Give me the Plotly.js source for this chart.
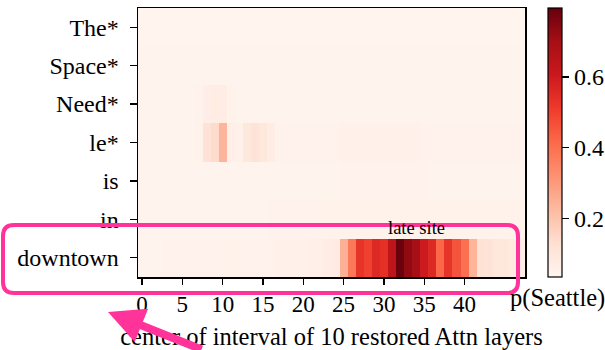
<!DOCTYPE html>
<html>
<head>
<meta charset="utf-8">
<script src="https://cdn.plot.ly/plotly-3.0.1.min.js"></script>
<style>html,body{margin:0;padding:0;background:#fff;}#chart{width:605px;height:350px;}</style>
</head>
<body>
<div id="chart"></div>
<script>
// ---- data ----
const tokens = ['The*', 'Space*', 'Need*', 'le*', 'is', 'in', 'downtown'];
const layers = Array.from({length: 48}, (_, i) => i);
const xTickVals = [0, 5, 10, 15, 20, 25, 30, 35, 40];

const rowThe = [0.040,0.040,0.041,0.041,0.040,0.040,0.040,0.041,0.041,0.041,0.040,0.040,0.040,0.040,0.040,0.040,
                0.040,0.040,0.040,0.040,0.040,0.040,0.040,0.040,0.040,0.040,0.040,0.040,0.040,0.040,0.040,0.040,
                0.040,0.040,0.040,0.040,0.040,0.040,0.040,0.040,0.040,0.040,0.040,0.040,0.040,0.040,0.040,0.040];
const rowSpace = [0.042,0.042,0.043,0.043,0.042,0.042,0.042,0.043,0.044,0.044,0.043,0.042,0.042,0.042,0.042,0.042,
                  0.042,0.042,0.042,0.042,0.042,0.042,0.042,0.042,0.042,0.042,0.042,0.042,0.042,0.042,0.042,0.042,
                  0.042,0.042,0.042,0.042,0.042,0.042,0.042,0.042,0.042,0.042,0.042,0.042,0.042,0.042,0.042,0.042];
const rowNeed = [0.043,0.043,0.043,0.043,0.043,0.044,0.045,0.048,0.065,0.075,0.070,0.050,0.046,0.046,0.046,0.045,
                 0.044,0.044,0.044,0.044,0.044,0.044,0.044,0.044,0.044,0.044,0.044,0.044,0.044,0.044,0.044,0.044,
                 0.044,0.044,0.044,0.044,0.044,0.044,0.044,0.044,0.044,0.044,0.044,0.044,0.044,0.044,0.044,0.044];
const rowLe = [0.045,0.045,0.045,0.045,0.045,0.045,0.046,0.050,0.120,0.140,0.240,0.060,0.055,0.100,0.110,0.100,
               0.070,0.052,0.048,0.048,0.048,0.048,0.048,0.048,0.048,0.058,0.058,0.058,0.058,0.058,0.058,0.058,
               0.058,0.058,0.058,0.048,0.047,0.047,0.047,0.047,0.047,0.047,0.047,0.047,0.047,0.047,0.047,0.047];
const rowIs = [0.044,0.044,0.044,0.044,0.044,0.044,0.044,0.044,0.045,0.045,0.045,0.045,0.045,0.045,0.045,0.045,
               0.045,0.045,0.045,0.045,0.045,0.045,0.045,0.045,0.045,0.048,0.048,0.048,0.048,0.048,0.048,0.048,
               0.048,0.048,0.048,0.047,0.046,0.046,0.046,0.046,0.046,0.046,0.046,0.046,0.046,0.046,0.046,0.046];
const rowIn = [0.045,0.045,0.045,0.045,0.045,0.045,0.045,0.045,0.046,0.046,0.046,0.046,0.046,0.046,0.046,0.046,
               0.047,0.047,0.047,0.047,0.049,0.049,0.049,0.050,0.050,0.050,0.050,0.050,0.050,0.050,0.050,0.050,
               0.050,0.050,0.050,0.050,0.050,0.050,0.050,0.050,0.050,0.050,0.050,0.050,0.050,0.050,0.050,0.050];
const rowDowntown = [0.046,0.046,0.046,0.047,0.047,0.048,0.048,0.048,0.049,0.049,0.050,0.050,0.050,0.051,0.051,0.052,
                     0.052,0.053,0.053,0.054,0.056,0.060,0.062,0.075,0.080,0.250,0.380,0.530,0.500,0.560,0.540,0.640,
                     0.790,0.730,0.700,0.600,0.560,0.420,0.530,0.460,0.400,0.240,0.120,0.110,0.100,0.100,0.080,0.070];

const zRows = [rowThe, rowSpace, rowNeed, rowLe, rowIs, rowIn, rowDowntown];

const redsScale = [[0,'#fff5f0'],[0.125,'#fee0d2'],[0.25,'#fcbba1'],[0.375,'#fc9272'],[0.5,'#fb6a4a'],
                   [0.625,'#ef3b2c'],[0.75,'#cb181d'],[0.875,'#a50f15'],[1,'#67000d']];

// ---- geometry helpers (pixel -> paper) ----
const W = 605, H = 350, mL = 138, mR = 80, mT = 8, mB = 73;
const pw = W - mL - mR, ph = H - mT - mB;
const px = x => (x - mL) / pw;
const py = y => (H - mB - y) / ph;

function roundRect(x0, y0, x1, y1, r) {
  const L = px(x0), R = px(x1), T = py(y0), B = py(y1);
  const rx = r / pw, ry = r / ph;
  return `M ${L+rx},${T} L ${R-rx},${T} Q ${R},${T} ${R},${T-ry} L ${R},${B+ry} Q ${R},${B} ${R-rx},${B} ` +
         `L ${L+rx},${B} Q ${L},${B} ${L},${B+ry} L ${L},${T-ry} Q ${L},${T} ${L+rx},${T} Z`;
}

const serif = 'Liberation Serif, Times New Roman, serif';
const pink = '#ff3399';

const trace = {
  type: 'heatmap',
  x: layers,
  y: tokens,
  z: zRows,
  colorscale: redsScale,
  zmin: 0.035,
  zmax: 0.795,
  showscale: true,
  colorbar: {
    x: px(548), xanchor: 'left', xpad: 0, ypad: 0,
    y: 0.5, yanchor: 'middle', len: 1, lenmode: 'fraction',
    thickness: 14, outlinewidth: 1.2, outlinecolor: '#000',
    tickvals: [0.2, 0.4, 0.6], ticktext: ['0.2', '0.4', '0.6'],
    ticks: 'outside', ticklen: 7, tickcolor: '#000', tickwidth: 1.2,
    ticklabelstandoff: 6,
    tickfont: {family: serif, size: 24, color: '#000'}
  },
  hoverinfo: 'skip'
};

const layout = {
  width: W, height: H,
  margin: {l: mL, r: mR, t: mT, b: mB, pad: 0, autoexpand: false},
  paper_bgcolor: '#fff', plot_bgcolor: '#fff',
  font: {family: serif, color: '#000'},
  xaxis: {
    range: [-0.5, 47.5], tickvals: xTickVals, ticks: 'outside', ticklen: 6, tickwidth: 1.2, tickcolor: '#000',
    showline: true, linecolor: '#000', linewidth: 1.5, mirror: true, showgrid: false, zeroline: false,
    tickfont: {family: serif, size: 23, color: '#000'},
    title: {text: 'center of interval of 10 restored Attn layers', font: {family: serif, size: 24.5, color: '#000'}, standoff: 14},
    automargin: false
  },
  yaxis: {
    type: 'category', categoryorder: 'array', categoryarray: tokens, autorange: 'reversed',
    ticks: 'outside', ticklen: 7, tickwidth: 1.2, tickcolor: '#000',
    showline: true, linecolor: '#000', linewidth: 1.5, mirror: true, showgrid: false, zeroline: false,
    ticklabelstandoff: 6,
    tickfont: {family: serif, size: 24, color: '#000'},
    automargin: false
  },
  shapes: [{
    type: 'path', xref: 'paper', yref: 'paper', layer: 'above',
    path: roundRect(3, 225, 518, 293, 11),
    line: {color: pink, width: 4}
  }],
  annotations: [
    {x: 34, y: 5.22, xref: 'x', yref: 'y', text: 'late site', showarrow: false,
     font: {family: serif, size: 18.5, color: '#000'}},
    {x: px(557), y: py(298), xref: 'paper', yref: 'paper', text: 'p(Seattle)', showarrow: false,
     font: {family: serif, size: 24.5, color: '#000'}, xanchor: 'center', yanchor: 'middle'},
    {x: px(108), y: py(312), xref: 'paper', yref: 'paper', text: '', showarrow: true,
     ax: 95, ay: 50, arrowcolor: pink, arrowwidth: 8, arrowhead: 2, arrowsize: 0.9, standoff: 0}
  ]
};

Plotly.newPlot('chart', [trace], layout, {staticPlot: true, displayModeBar: false});
</script>
</body>
</html>
